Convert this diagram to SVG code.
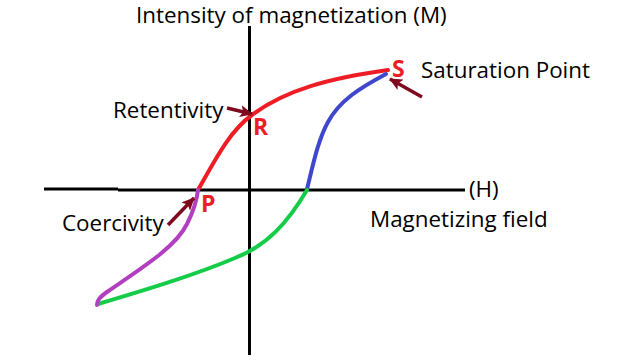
<svg xmlns="http://www.w3.org/2000/svg" width="618" height="360" viewBox="0 0 618 360">
<style>
  .lbl { font-family: "Open Sans", "Noto Sans", "DejaVu Sans", sans-serif; font-size: 22.4px; fill: #000; }
  .pt { font-family: "Open Sans", "Noto Sans", "DejaVu Sans", sans-serif; font-size: 23px; font-weight: bold; fill: #ee1c25; }
  .axis { stroke: #000; stroke-width: 3; fill: none; }
  .curve { fill: none; stroke-width: 4; stroke-linecap: round; }
  .ptr { stroke: #7f0a1f; stroke-width: 3.5; fill: none; marker-end: url(#ah); }
</style>
<defs>
  <marker id="ah" markerUnits="userSpaceOnUse" markerWidth="14" markerHeight="14" refX="12" refY="7" orient="auto">
    <path d="M0,1 L13,7 L0,13 L3,7 Z" fill="#7f0a1f"/>
  </marker>
</defs>
<rect width="618" height="360" fill="#fff"/>
<g id="axes">
  <line class="axis" x1="249.5" y1="26" x2="249.5" y2="355"/>
  <line class="axis" x1="44" y1="189" x2="118" y2="189"/>
  <line class="axis" x1="118" y1="190" x2="465" y2="190"/>
</g>
<g id="connectors">
  <path id="red" class="curve" stroke="#ee1c25" d="M198,190 C212,166 228,132 252,115 C285,90 330,78 388,70"/>
  <path id="blue" class="curve" stroke="#3f48cc" d="M307,189 C313,165 318,140 328,122 C340,100 360,88 386,74"/>
  <path id="green" class="curve" stroke="#14cc48" d="M307,190 C288,222 268,245 235,258 C195,275 145,290 98,304"/>
  <path id="purple" class="curve" stroke="#b23fc0" d="M97,305 C97,300 100,297 107,292 C148,264 176,246 187,224 C194,210 197,199 198,190"/>
  <line class="ptr" x1="227" y1="108" x2="252" y2="114"/>
  <line class="ptr" x1="422" y1="97" x2="390" y2="79"/>
  <line class="ptr" x1="168" y1="225" x2="194" y2="198"/>
</g>
<g id="labels">
  <text class="lbl" x="136" y="23">Intensity of magnetization (M)</text>
  <text class="lbl" x="113" y="118">Retentivity</text>
  <text class="lbl" x="421" y="78">Saturation Point</text>
  <text class="lbl" x="62" y="231">Coercivity</text>
  <text class="lbl" x="469" y="197">(H)</text>
  <text class="lbl" x="370" y="227">Magnetizing field</text>
</g>
<g id="S"><text class="pt" x="392" y="77">S</text></g>
<g id="R"><text class="pt" x="253" y="135">R</text></g>
<g id="P"><text class="pt" x="201" y="212">P</text></g>
</svg>
